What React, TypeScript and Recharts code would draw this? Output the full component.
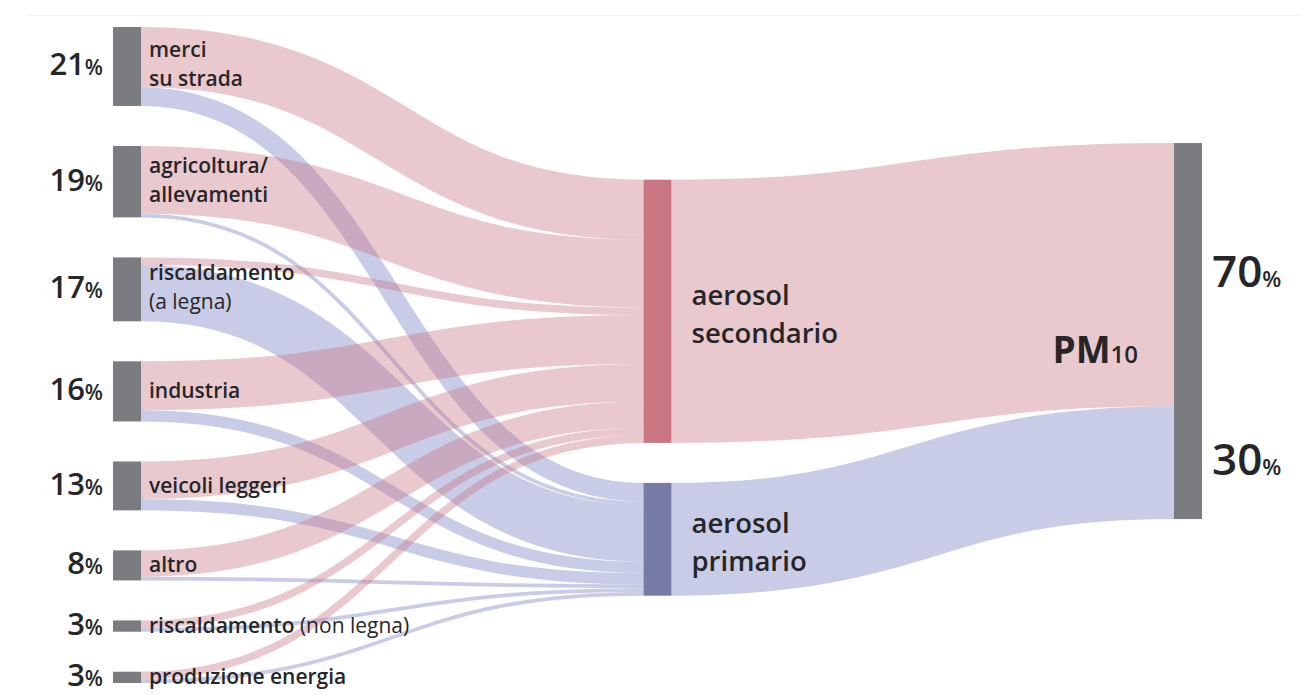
import React from 'react';
import { Sankey } from 'recharts';

// ---- data ----
const sourceNames = [
  'merci su strada',
  'agricoltura/allevamenti',
  'riscaldamento (a legna)',
  'industria',
  'veicoli leggeri',
  'altro',
  'riscaldamento (non legna)',
  'produzione energia',
];
const sourceLabelLines = [
  ['merci', 'su strada'],
  ['agricoltura/', 'allevamenti'],
  ['riscaldamento', '(a legna)'],
  ['industria'],
  ['veicoli leggeri'],
  ['altro'],
  ['riscaldamento (non legna)'],
  ['produzione energia'],
];
const sourceShares = [21, 19, 17, 16, 13, 8, 3, 3];
const toSecondary = [16, 18, 2, 13, 10, 7, 2, 2];
const toPrimary = [5, 1, 15, 3, 3, 1, 1, 1];

const aerosolNames = ['aerosol secondario', 'aerosol primario'];
const aerosolLabelLines = [
  ['aerosol', 'secondario'],
  ['aerosol', 'primario'],
];
const aerosolShares = [70, 30];

const totalName = 'PM10';

// ---- build sankey data ----
const SEC = sourceNames.length;
const PRI = SEC + 1;
const TOT = SEC + 2;

const nodes = [
  ...sourceNames.map((name) => ({ name })),
  ...aerosolNames.map((name) => ({ name })),
  { name: totalName },
];

const links = [
  ...sourceNames.flatMap((_, i) => [
    { source: i, target: SEC, value: toSecondary[i] },
    { source: i, target: PRI, value: toPrimary[i] },
  ]),
  { source: SEC, target: TOT, value: aerosolShares[0] },
  { source: PRI, target: TOT, value: aerosolShares[1] },
];

const FONT = '"Open Sans", Lato, sans-serif';
const TEXT = '#262628';
const PINK = '#c8707e';
const BLUE = '#7078c0';
const GREY = '#7b7c80';
const SEC_NODE = '#c97582';
const PRI_NODE = '#757ba4';

function renderLine(line: string) {
  const i = line.indexOf('(');
  if (i < 0) return <tspan fontWeight={600}>{line}</tspan>;
  return (
    <>
      {i > 0 && <tspan fontWeight={600}>{line.slice(0, i)}</tspan>}
      <tspan fontWeight={400}>{line.slice(i)}</tspan>
    </>
  );
}

function NodeShape(props: any) {
  const { x, y, width, height, index } = props;
  const cy = y + height / 2;
  if (index < SEC) {
    const lines = sourceLabelLines[index];
    return (
      <g>
        <rect x={x} y={y} width={width} height={height} fill={GREY} />
        <text x={x - 10} y={cy + 9} textAnchor="end" fontFamily={FONT} fill={TEXT}>
          <tspan fontSize={31} fontWeight={600}>{sourceShares[index]}</tspan>
          <tspan fontSize={21} fontWeight={600}>%</tspan>
        </text>
        {lines.length === 1 ? (
          <text x={x + width + 8} y={cy + 7} fontFamily={FONT} fontSize={21} fill={TEXT}>
            {renderLine(lines[0])}
          </text>
        ) : (
          <>
            <text x={x + width + 8} y={cy - 9} fontFamily={FONT} fontSize={21} fill={TEXT}>
              {renderLine(lines[0])}
            </text>
            <text x={x + width + 8} y={cy + 20} fontFamily={FONT} fontSize={21} fill={TEXT}>
              {renderLine(lines[1])}
            </text>
          </>
        )}
      </g>
    );
  }
  if (index === SEC || index === PRI) {
    const k = index - SEC;
    const lines = aerosolLabelLines[k];
    return (
      <g>
        <rect x={x} y={y} width={width} height={height} fill={k === 0 ? SEC_NODE : PRI_NODE} />
        <text x={x + width + 20} y={cy - 6} fontFamily={FONT} fontSize={27.5} fontWeight={600} fill={TEXT}>
          {lines[0]}
        </text>
        <text x={x + width + 20} y={cy + 32} fontFamily={FONT} fontSize={27.5} fontWeight={600} fill={TEXT}>
          {lines[1]}
        </text>
      </g>
    );
  }
  // total node
  let cum = 0;
  const pctLabels = aerosolShares.map((s, k) => {
    const mid = y + (height * (cum + s / 2)) / 100;
    cum += s;
    return (
      <text key={k} x={x + width + 10} y={mid + 12} fontFamily={FONT} fill={TEXT}>
        <tspan fontSize={44} fontWeight={600}>{s}</tspan>
        <tspan fontSize={22} fontWeight={600}>%</tspan>
      </text>
    );
  });
  return (
    <g>
      <rect x={x} y={y} width={width} height={height} fill={GREY} />
      <text x={x - 36} y={cy + 32} textAnchor="end" fontFamily={FONT} fill={TEXT} fontWeight={700}>
        <tspan fontSize={37}>PM</tspan>
        <tspan fontSize={24} fontWeight={600}>10</tspan>
      </text>
      {pctLabels}
    </g>
  );
}

function LinkShape(props: any) {
  const { sourceX, targetX, sourceY, targetY, sourceControlX, targetControlX, linkWidth, payload } = props;
  const secondary =
    payload?.target?.name === aerosolNames[0] || payload?.source?.name === aerosolNames[0];
  return (
    <path
      d={`M${sourceX},${sourceY}C${sourceControlX},${sourceY} ${targetControlX},${targetY} ${targetX},${targetY}`}
      fill="none"
      stroke={secondary ? PINK : BLUE}
      strokeWidth={linkWidth}
      strokeOpacity={0.38}
    />
  );
}

export default function App() {
  return (
    <div style={{ position: 'absolute', left: 0, top: 0, width: 1316, height: 695, background: '#fff', overflow: 'hidden' }}>
      <div style={{ position: 'absolute', left: 28, top: 15, width: 1272, height: 1, background: '#f0f0f0' }} />
      <Sankey
        width={1316}
        height={695}
        data={{ nodes, links }}
        margin={{ top: 27, left: 113, right: 114, bottom: 12 }}
        nodeWidth={28}
        nodePadding={40}
        iterations={32}
        sort={false}
        node={NodeShape}
        link={LinkShape}
      />
    </div>
  );
}
